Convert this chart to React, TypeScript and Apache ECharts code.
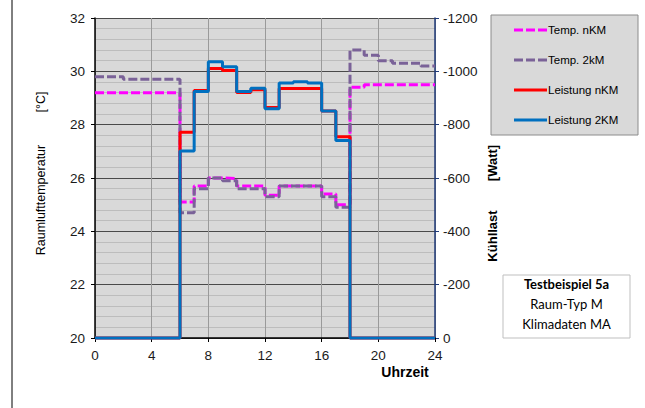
import React, { useEffect, useRef } from "react";
import * as echarts from "echarts";

const hours = [0, 1, 2, 3, 4, 5, 6, 7, 8, 9, 10, 11, 12, 13, 14, 15, 16, 17, 18, 19, 20, 21, 22, 23];
const tempNKM = [29.2, 29.2, 29.2, 29.2, 29.2, 29.2, 25.1, 25.7, 26.0, 25.98, 25.7, 25.7, 25.35, 25.7, 25.7, 25.7, 25.4, 25.0, 29.4, 29.5, 29.5, 29.5, 29.5, 29.5];
const temp2KM = [29.8, 29.8, 29.7, 29.7, 29.7, 29.7, 24.7, 25.6, 26.0, 25.9, 25.6, 25.6, 25.3, 25.7, 25.7, 25.7, 25.3, 24.9, 30.8, 30.6, 30.4, 30.3, 30.3, 30.2];
const leistungNKM = [0, 0, 0, 0, 0, 0, -772, -928, -1011, -1003, -921, -931, -864, -936, -936, -936, -851, -755, 0, 0, 0, 0, 0, 0];
const leistung2KM = [0, 0, 0, 0, 0, 0, -701, -924, -1036, -1017, -924, -937, -860, -956, -961, -956, -851, -741, 0, 0, 0, 0, 0, 0];
const seriesNames = ["Temp. nKM", "Temp. 2kM", "Leistung nKM", "Leistung 2KM"];
const boxLines = ["Testbeispiel 5a", "Raum-Typ M", "Klimadaten MA"];

const toSteps = (vals: number[]) => {
  const pts = hours.map((h, i) => [h, vals[i]]);
  pts.push([24, vals[vals.length - 1]]);
  return pts;
};

const FONT = "Liberation Sans, Arial, sans-serif";
const MAGENTA = "#ff00ff";
const PURPLE = "#7a6298";
const RED = "#ff0000";
const BLUE = "#0070c0";

export default function App() {
  const ref = useRef<HTMLDivElement>(null);
  useEffect(() => {
    if (!ref.current) return;
    const chart = echarts.init(ref.current, null, { renderer: "svg" });
    const legendY = [30, 60, 90, 120];
    const legendColors = [MAGENTA, PURPLE, RED, BLUE];
    const legendDash = [true, true, false, false];
    const graphics: any[] = [
      { type: "line", shape: { x1: 12, y1: 0, x2: 12, y2: 408 }, style: { stroke: "#000", lineWidth: 1 } },
      { type: "rect", shape: { x: 491, y: 15, width: 147, height: 120 }, style: { fill: "#d9d9d9", stroke: "#8c8c8c", lineWidth: 1 } },
      { type: "rect", shape: { x: 503, y: 275, width: 127, height: 63 }, style: { fill: "#fff", stroke: "#bfbfbf", lineWidth: 1 } },
      { type: "text", x: 41, y: 102, rotation: Math.PI / 2, style: { text: "[°C]", font: `12.5px ${FONT}`, fill: "#000", align: "center", verticalAlign: "middle" } },
      { type: "text", x: 41, y: 200, rotation: Math.PI / 2, style: { text: "Raumlufttemperatur", font: `12.5px ${FONT}`, fill: "#000", align: "center", verticalAlign: "middle" } },
      { type: "text", x: 492, y: 163, rotation: Math.PI / 2, style: { text: "[Watt]", font: `bold 13px ${FONT}`, fill: "#000", align: "center", verticalAlign: "middle" } },
      { type: "text", x: 492, y: 236, rotation: Math.PI / 2, style: { text: "Kühllast", font: `bold 13px ${FONT}`, fill: "#000", align: "center", verticalAlign: "middle" } },
      { type: "text", x: 405, y: 372, style: { text: "Uhrzeit", font: `bold 14px ${FONT}`, fill: "#000", align: "center", verticalAlign: "middle" } },
    ];
    seriesNames.forEach((n, i) => {
      graphics.push({
        type: "line",
        shape: { x1: 514, y1: legendY[i], x2: 547, y2: legendY[i] },
        style: { stroke: legendColors[i], lineWidth: 3, lineDash: legendDash[i] ? [9, 3] : null },
      });
      graphics.push({
        type: "text", x: 548, y: legendY[i],
        style: { text: n, font: `11.5px ${FONT}`, fill: "#000", align: "left", verticalAlign: "middle" },
      });
    });
    boxLines.forEach((t, i) => {
      graphics.push({
        type: "text", x: 566.5, y: 284 + i * 20,
        style: { text: t, font: `${i === 0 ? "bold " : ""}13px Lato, sans-serif`, fill: "#000", align: "center", verticalAlign: "middle" },
      });
    });

    const labelStyle = { fontFamily: FONT, fontSize: 13.5, color: "#1a1a1a" };
    chart.setOption({
      animation: false,
      backgroundColor: "#fff",
      grid: { left: 95, right: 210, top: 18, bottom: 70, show: true, backgroundColor: "#d9d9d9", borderWidth: 0 },
      xAxis: {
        type: "value", min: 0, max: 24, interval: 4,
        axisLine: { show: true, onZero: false, lineStyle: { color: "#000", width: 1.5 } },
        axisTick: { show: true, length: 4, lineStyle: { color: "#000" } },
        axisLabel: { ...labelStyle, margin: 10, formatter: (v: number) => String(v) },
        splitLine: { show: true, lineStyle: { color: "#9a9a9a", width: 1 } },
      },
      yAxis: [
        {
          type: "value", min: 20, max: 32, interval: 2, position: "left",
          axisLine: { show: true, lineStyle: { color: "#000", width: 1.5 } },
          axisTick: { show: true, length: 4, lineStyle: { color: "#000" } },
          axisLabel: { ...labelStyle, margin: 10, formatter: (v: number) => String(v) },
          splitLine: { show: true, lineStyle: { color: "#4a4a4a", width: 1 } },
          minorTick: { show: false, splitNumber: 5 },
          minorSplitLine: { show: true, lineStyle: { color: "#bdbdbd", width: 1 } },
        },
        {
          type: "value", min: -1200, max: 0, interval: 200, inverse: true, position: "right",
          axisLine: { show: true, lineStyle: { color: "#1f3a78", width: 1.5 } },
          axisTick: { show: true, length: 4, lineStyle: { color: "#1f3a78" } },
          axisLabel: { ...labelStyle, margin: 8, formatter: (v: number) => String(v) },
          splitLine: { show: false },
        },
      ],
      graphic: graphics,
      series: [
        { name: seriesNames[0], type: "line", step: "end", yAxisIndex: 0, data: toSteps(tempNKM), showSymbol: false, symbol: "none", clip: false, lineStyle: { color: MAGENTA, width: 3, type: [9, 3] } },
        { name: seriesNames[1], type: "line", step: "end", yAxisIndex: 0, data: toSteps(temp2KM), showSymbol: false, symbol: "none", clip: false, lineStyle: { color: PURPLE, width: 3, type: [9, 3] } },
        { name: seriesNames[2], type: "line", step: "end", yAxisIndex: 1, data: toSteps(leistungNKM), showSymbol: false, symbol: "none", clip: false, lineStyle: { color: RED, width: 3 } },
        { name: seriesNames[3], type: "line", step: "end", yAxisIndex: 1, data: toSteps(leistung2KM), showSymbol: false, symbol: "none", clip: false, lineStyle: { color: BLUE, width: 3 } },
      ],
    });
    return () => chart.dispose();
  }, []);
  return <div ref={ref} style={{ position: "fixed", left: 0, top: 0, width: 645, height: 408 }} />;
}
